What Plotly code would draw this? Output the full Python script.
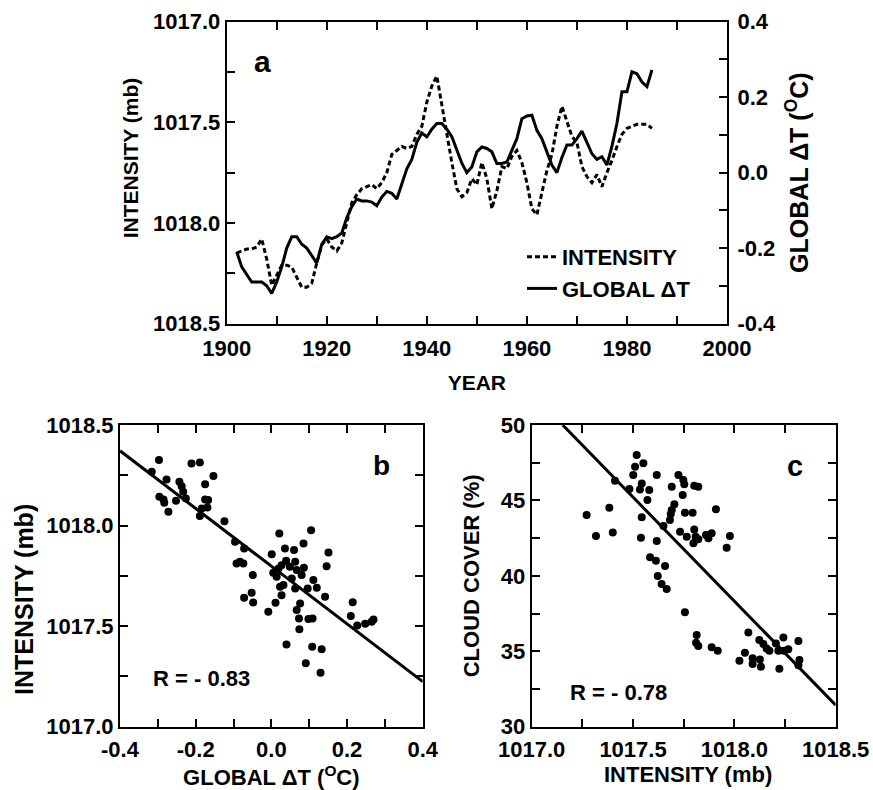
import plotly.graph_objects as go

# ---------------- Panel a: time series ----------------
years = list(range(1902, 1986))
intensity = [
    1018.15, 1018.14, 1018.13, 1018.13, 1018.12, 1018.08, 1018.18, 1018.31, 1018.26, 1018.21,
    1018.21, 1018.22, 1018.27, 1018.32, 1018.32, 1018.30, 1018.20, 1018.11, 1018.08, 1018.12,
    1018.14, 1018.10, 1018.00, 1017.90, 1017.86, 1017.83, 1017.82, 1017.81, 1017.83, 1017.80,
    1017.75, 1017.66, 1017.64, 1017.62, 1017.63, 1017.62, 1017.56, 1017.52, 1017.40, 1017.32,
    1017.27, 1017.42, 1017.57, 1017.70, 1017.83, 1017.87, 1017.85, 1017.78, 1017.81, 1017.70,
    1017.78, 1017.93, 1017.84, 1017.72, 1017.73, 1017.67, 1017.64, 1017.70, 1017.80, 1017.93,
    1017.96, 1017.85, 1017.74, 1017.66, 1017.52, 1017.42, 1017.49, 1017.57, 1017.60, 1017.72,
    1017.77, 1017.80, 1017.76, 1017.82, 1017.75, 1017.69, 1017.62, 1017.56, 1017.53, 1017.52,
    1017.51, 1017.51, 1017.51, 1017.53,
]
global_dt = [
    -0.21, -0.25, -0.27, -0.29, -0.29, -0.29, -0.30, -0.32, -0.29, -0.25,
    -0.20, -0.17, -0.17, -0.19, -0.20, -0.22, -0.24, -0.19, -0.17, -0.175,
    -0.17, -0.16, -0.12, -0.09, -0.07, -0.075, -0.075, -0.078, -0.088, -0.065,
    -0.05, -0.055, -0.07, -0.03, 0.01, 0.035, 0.08, 0.105, 0.095, 0.115,
    0.13, 0.13, 0.115, 0.095, 0.06, 0.025, 0.0, 0.015, 0.055, 0.068,
    0.064, 0.055, 0.024, 0.024, 0.028, 0.06, 0.09, 0.143, 0.15, 0.152,
    0.112, 0.09, 0.055, 0.02, 0.0, 0.04, 0.073, 0.073, 0.09, 0.11,
    0.08, 0.05, 0.035, 0.042, 0.02, 0.07, 0.13, 0.214, 0.214, 0.267,
    0.262, 0.24, 0.228, 0.272,
]

# ---------------- Panel b: intensity vs global dT ----------------
b_dt = [
    -0.316, -0.297, -0.277, -0.296, -0.285, -0.283, -0.272, -0.252, -0.243, -0.237,
    -0.233, -0.226, -0.211, -0.189, -0.175, -0.153, -0.175, -0.167, -0.184, -0.169,
    -0.189, -0.124, -0.096, -0.072, -0.092, -0.083, -0.074, -0.049, -0.052, -0.072,
    -0.048, -0.008, 0.001, 0.011, 0.021, 0.036, 0.060, 0.085, 0.105, 0.151,
    0.146, 0.005, 0.019, 0.027, 0.039, 0.049, 0.063, 0.067, 0.080, 0.086,
    0.014, 0.023, 0.032, 0.027, 0.054, 0.063, 0.076, 0.067, 0.073, 0.098,
    0.109, 0.074, 0.111, 0.120, 0.142, 0.096, 0.215, 0.210, 0.227, 0.248,
    0.265, 0.270, 0.040, 0.108, 0.133, 0.091, 0.130,
]
b_int = [
    1018.268, 1018.326, 1018.229, 1018.143, 1018.130, 1018.113, 1018.069, 1018.123, 1018.218, 1018.196,
    1018.168, 1018.135, 1018.309, 1018.314, 1018.206, 1018.246, 1018.130, 1018.127, 1018.085, 1018.090,
    1018.047, 1018.022, 1017.919, 1017.886, 1017.812, 1017.820, 1017.812, 1017.754, 1017.666, 1017.641,
    1017.618, 1017.571, 1017.858, 1017.616, 1017.961, 1017.886, 1017.878, 1017.911, 1017.977, 1017.866,
    1017.798, 1017.765, 1017.787, 1017.803, 1017.825, 1017.795, 1017.820, 1017.779, 1017.754, 1017.790,
    1017.745, 1017.696, 1017.704, 1017.654, 1017.737, 1017.687, 1017.613, 1017.580, 1017.538, 1017.535,
    1017.538, 1017.484, 1017.729, 1017.691, 1017.646, 1017.687, 1017.619, 1017.551, 1017.503, 1017.512,
    1017.522, 1017.533, 1017.409, 1017.398, 1017.385, 1017.315, 1017.268,
]
b_fit_x = [-0.4, 0.4]
b_fit_y = [1018.372, 1017.224]

# ---------------- Panel c: cloud cover vs intensity ----------------
c_int = [
    1017.271, 1017.317, 1017.383, 1017.400, 1017.411, 1017.482, 1017.510, 1017.518, 1017.551, 1017.501,
    1017.543, 1017.534, 1017.580, 1017.571, 1017.543, 1017.539, 1017.617, 1017.617, 1017.650, 1017.584,
    1017.613, 1017.658, 1017.622, 1017.641, 1017.666, 1017.691, 1017.724, 1017.748, 1017.753, 1017.745,
    1017.802, 1017.822, 1017.704, 1017.691, 1017.686, 1017.682, 1017.732, 1017.756, 1017.794, 1017.765,
    1017.802, 1017.809, 1017.798, 1017.822, 1017.860, 1017.872, 1017.888, 1017.909, 1017.978, 1017.962,
    1017.756, 1017.814, 1017.811, 1017.822, 1017.888, 1017.918, 1018.025, 1018.052, 1018.069, 1018.090,
    1018.090, 1018.123, 1018.126, 1018.131, 1018.143, 1018.159, 1018.173, 1018.205, 1018.217, 1018.222,
    1018.242, 1018.245, 1018.266, 1018.316, 1018.321, 1018.316,
]
c_cloud = [
    44.03, 42.64, 44.52, 42.88, 46.31, 45.76, 47.24, 48.01, 47.46, 46.68,
    46.13, 45.73, 45.69, 45.03, 43.88, 42.53, 46.68, 42.31, 43.30, 41.23,
    41.00, 40.65, 39.99, 39.46, 39.13, 45.91, 46.68, 46.35, 46.07, 45.36,
    45.98, 45.91, 44.74, 44.36, 44.10, 43.70, 42.93, 44.19, 44.19, 42.60,
    43.08, 42.60, 42.16, 42.42, 42.71, 42.49, 42.82, 44.41, 42.64, 41.87,
    37.58, 36.08, 35.57, 35.35, 35.26, 35.04, 34.38, 34.91, 36.25, 34.53,
    34.15, 35.75, 34.46, 33.98, 35.48, 35.19, 35.04, 35.52, 35.04, 33.84,
    35.92, 35.04, 35.13, 35.68, 34.42, 34.07,
]
c_fit_x = [1017.153, 1018.5]
c_fit_y = [50.0, 31.43]

# ---------------- tick definitions ----------------
a_xticks = [1900, 1920, 1940, 1960, 1980, 2000]
a_xlabels = ["1900", "1920", "1940", "1960", "1980", "2000"]
a_xminor = [1910, 1930, 1950, 1970, 1990]
a_yticks = [1017.0, 1017.5, 1018.0, 1018.5]
a_ylabels = ["1017.0", "1017.5", "1018.0", "1018.5"]
a_yminor = [1017.25, 1017.75, 1018.25]
a_y2ticks = [-0.4, -0.2, 0.0, 0.2, 0.4]
a_y2labels = ["-0.4", "-0.2", "0.0", "0.2", "0.4"]
a_y2minor = [-0.3, -0.1, 0.1, 0.3]
b_xticks = [-0.4, -0.2, 0.0, 0.2, 0.4]
b_xlabels = ["-0.4", "-0.2", "0.0", "0.2", "0.4"]
b_xminor = [-0.3, -0.1, 0.1, 0.3]
b_yticks = [1017.0, 1017.5, 1018.0, 1018.5]
b_ylabels = ["1017.0", "1017.5", "1018.0", "1018.5"]
b_yminor = [1017.25, 1017.75, 1018.25]
c_xticks = [1017.0, 1017.5, 1018.0, 1018.5]
c_xlabels = ["1017.0", "1017.5", "1018.0", "1018.5"]
c_xminor = [1017.25, 1017.75, 1018.25]
c_yticks = [30, 35, 40, 45, 50]
c_ylabels = ["30", "35", "40", "45", "50"]
c_yminor = [32.5, 37.5, 42.5, 47.5]

FONT = "Liberation Sans, Arial, Helvetica, sans-serif"
W, H = 873, 790

def px_x(a, b):
    return [a / W, b / W]

def px_y(top, bottom):
    return [1 - bottom / H, 1 - top / H]

def fnt(size):
    return dict(family=FONT, size=size, color="black", weight="bold")

fig = go.Figure()

fig.add_trace(go.Scatter(
    x=years, y=intensity, mode="lines", name="INTENSITY",
    line=dict(color="black", width=3, dash="5px,3px"),
    xaxis="x", yaxis="y",
))
fig.add_trace(go.Scatter(
    x=years, y=global_dt, mode="lines", name="GLOBAL ΔT",
    line=dict(color="black", width=3),
    xaxis="x", yaxis="y2",
))
fig.add_trace(go.Scatter(
    x=b_dt, y=b_int, mode="markers", showlegend=False,
    marker=dict(color="black", size=8), xaxis="x2", yaxis="y3",
))
fig.add_trace(go.Scatter(
    x=b_fit_x, y=b_fit_y, mode="lines", showlegend=False,
    line=dict(color="black", width=3), xaxis="x2", yaxis="y3",
))
fig.add_trace(go.Scatter(
    x=c_int, y=c_cloud, mode="markers", showlegend=False,
    marker=dict(color="black", size=8), xaxis="x3", yaxis="y4",
))
fig.add_trace(go.Scatter(
    x=c_fit_x, y=c_fit_y, mode="lines", showlegend=False,
    line=dict(color="black", width=3), xaxis="x3", yaxis="y4",
))

def axis(domain, rng, tickvals, ticktext, minorvals, anchor, title=None, title_size=22,
         mirror="ticks", side=None, overlaying=None, labelpad=None):
    d = dict(
        domain=domain, range=rng, tickmode="array", tickvals=tickvals, ticktext=ticktext,
        ticks="inside", ticklen=8, tickwidth=2, tickcolor="black",
        minor=dict(tickmode="array", tickvals=minorvals, ticks="inside", ticklen=8,
                   tickwidth=2, tickcolor="black", showgrid=False),
        showline=True, linecolor="black", linewidth=2, mirror=mirror,
        showgrid=False, zeroline=False, anchor=anchor, automargin=False,
        tickfont=fnt(22),
    )
    if title is not None:
        d["title"] = dict(text=title, font=fnt(title_size))
    if labelpad is not None:
        d["ticklabelstandoff"] = labelpad
    if side:
        d["side"] = side
    if overlaying:
        d["overlaying"] = overlaying
    return d

a_xdom = px_x(226.7, 727)
a_ydom = px_y(21.7, 323.5)
b_xdom = px_x(120, 422.7)
c_xdom = px_x(531.7, 835.7)
bc_ydom = px_y(425, 726.7)

fig.update_layout(
    width=W, height=H, margin=dict(l=0, r=0, t=0, b=0),
    paper_bgcolor="white", plot_bgcolor="white",
    font=dict(family=FONT, color="black", weight="bold"),
    xaxis=axis(a_xdom, [1900, 2000], a_xticks, a_xlabels, a_xminor, "y",
               title="YEAR", title_size=21, labelpad=4),
    yaxis=axis(a_ydom, [1018.5, 1017.0], a_yticks, a_ylabels, a_yminor, "x", mirror=False),
    yaxis2=axis(a_ydom, [-0.4, 0.4], a_y2ticks, a_y2labels, a_y2minor, "x",
                title="GLOBAL ΔT (<sup>O</sup>C)", title_size=25, mirror=False,
                side="right", overlaying="y", labelpad=4),
    xaxis2=axis(b_xdom, [-0.4, 0.4], b_xticks, b_xlabels, b_xminor, "y3",
                title="GLOBAL ΔT (<sup>O</sup>C)", labelpad=2),
    yaxis3=axis(bc_ydom, [1017.0, 1018.5], b_yticks, b_ylabels, b_yminor, "x2"),
    xaxis3=axis(c_xdom, [1017.0, 1018.5], c_xticks, c_xlabels, c_xminor, "y4", labelpad=2),
    yaxis4=axis(bc_ydom, [30, 50], c_yticks, c_ylabels, c_yminor, "x3",
                title="CLOUD COVER (%)"),
    showlegend=True,
    legend=dict(
        x=522 / W, y=1 - 236 / H, xanchor="left", yanchor="top",
        bgcolor="rgba(0,0,0,0)", borderwidth=0,
        font=fnt(22), itemwidth=30, tracegroupgap=0,
    ),
    annotations=[
        # axis titles placed off-centre, as in the original figure
        dict(text="INTENSITY (mb)", x=130.8 / W, y=1 - 157.5 / H, xref="paper", yref="paper",
             xanchor="center", yanchor="middle",
             textangle=-90, showarrow=False, font=fnt(21)),
        dict(text="INTENSITY (mb)", x=24 / W, y=1 - 600 / H, xref="paper", yref="paper",
             xanchor="center", yanchor="middle",
             textangle=-90, showarrow=False, font=fnt(25)),
        dict(text="INTENSITY (mb)", x=688 / W, y=1 - 774 / H, xref="paper", yref="paper",
             xanchor="center", yanchor="middle", showarrow=False, font=fnt(22)),
        dict(text="a", x=1907.1, y=1017.196, xref="x", yref="y", showarrow=False, font=fnt(30)),
        dict(text="b", x=0.292, y=1018.30, xref="x2", yref="y3", showarrow=False, font=fnt(28)),
        dict(text="R = - 0.83", x=-0.184, y=1017.242, xref="x2", yref="y3", showarrow=False,
             font=fnt(22)),
        dict(text="c", x=1018.30, y=47.28, xref="x3", yref="y4", showarrow=False, font=fnt(29)),
        dict(text="R = - 0.78", x=1017.427, y=32.29, xref="x3", yref="y4", showarrow=False,
             font=fnt(22)),
    ],
)

fig.write_html("out.html")
